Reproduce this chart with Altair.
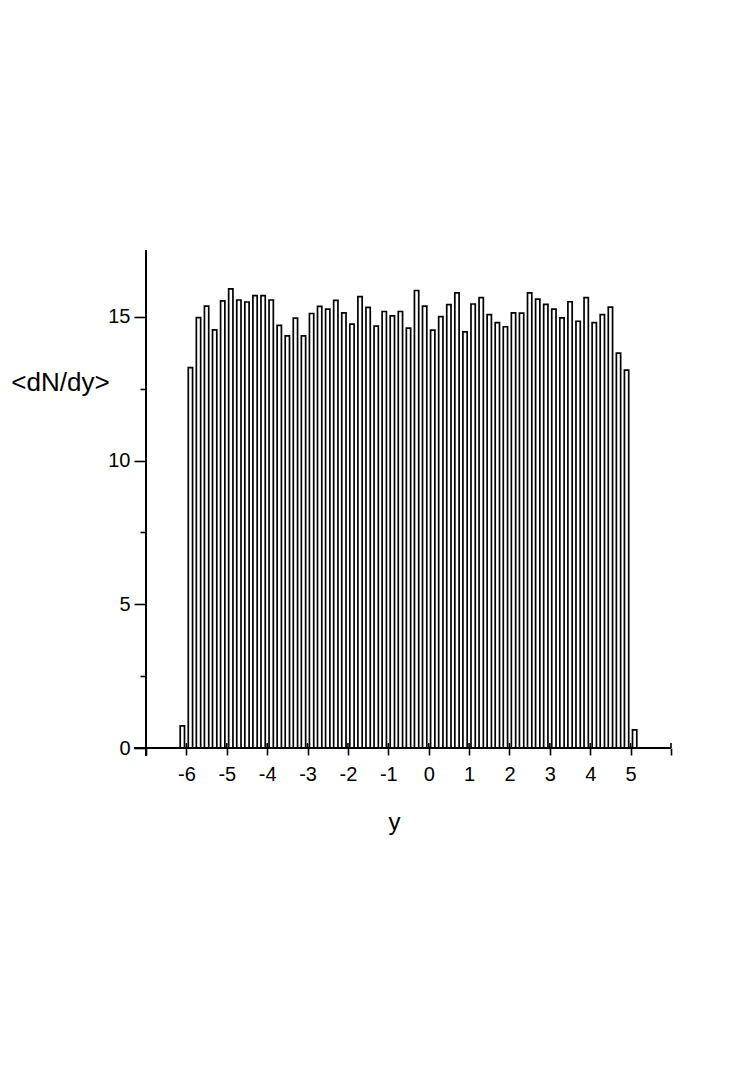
import altair as alt
import pandas as pd

# Bin centres of the rapidity histogram and the mean multiplicity per bin
bin_centers = [-6.1, -5.9, -5.7, -5.5, -5.3, -5.1, -4.9, -4.7, -4.5, -4.3, -4.1,
               -3.9, -3.7, -3.5, -3.3, -3.1, -2.9, -2.7, -2.5, -2.3, -2.1,
               -1.9, -1.7, -1.5, -1.3, -1.1, -0.9, -0.7, -0.5, -0.3, -0.1,
               0.1, 0.3, 0.5, 0.7, 0.9, 1.1, 1.3, 1.5, 1.7, 1.9,
               2.1, 2.3, 2.5, 2.7, 2.9, 3.1, 3.3, 3.5, 3.7, 3.9,
               4.1, 4.3, 4.5, 4.7, 4.9, 5.1]
dndy = [0.77, 13.24, 14.98, 15.38, 14.55, 15.56, 15.98, 15.59, 15.52, 15.74, 15.74,
        15.59, 14.71, 14.34, 14.96, 14.34, 15.12, 15.37, 15.27, 15.58, 15.14,
        14.75, 15.71, 15.33, 14.68, 15.19, 15.04, 15.19, 14.61, 15.92, 15.38,
        14.54, 15.01, 15.43, 15.84, 14.48, 15.45, 15.67, 15.08, 14.80, 14.66,
        15.14, 15.13, 15.84, 15.62, 15.44, 15.27, 14.97, 15.53, 14.85, 15.67,
        14.80, 15.08, 15.34, 13.74, 13.15, 0.63]
x_ticks = [-7, -6, -5, -4, -3, -2, -1, 0, 1, 2, 3, 4, 5, 6]
y_ticks = [0, 2.5, 5, 7.5, 10, 12.5, 15]

HALF = 0.053
FONT = "Liberation Sans"
W, H = 525, 498

df = pd.DataFrame({"yc": bin_centers, "dndy": dndy})
df["lo"] = df["yc"] - HALF
df["hi"] = df["yc"] + HALF

xscale = alt.Scale(domain=[-7, 6], nice=False, zero=False)
yscale = alt.Scale(domain=[0, 17.33], nice=False, zero=True)

x_axis = alt.Axis(
    values=x_ticks,
    labelExpr="(datum.value > -7 && datum.value < 6) ? ('' + datum.value) : ''",
    tickSize=7, tickColor="black", tickWidth=1.6, domain=False, grid=False,
    labelFont=FONT, labelFontSize=20, labelColor="black", labelPadding=25,
    labelBaseline="alphabetic", labelOverlap=False,
    title="y", titleFont=FONT, titleFontSize=24, titleFontWeight="normal",
    titleColor="black", titleX=248, titleY=81, titleAlign="center",
    titleBaseline="alphabetic")

y_axis = alt.Axis(
    values=y_ticks,
    labelExpr="datum.value % 5 === 0 ? ('' + datum.value) : ''",
    tickSize={"condition": {"test": "datum.value % 5 === 0", "value": 12}, "value": 6},
    tickColor="black", tickWidth=1.6, domain=False, grid=False,
    labelFont=FONT, labelFontSize=20, labelColor="black", labelPadding=4,
    title="<dN/dy>", titleFont=FONT, titleFontSize=26, titleFontWeight="normal",
    titleColor="black", titleAngle=0, titleX=-86, titleY=140,
    titleAlign="center", titleBaseline="alphabetic")

bars = alt.Chart(df).mark_rect(
    fill="white", stroke="black", strokeWidth=1.7, opacity=1
).encode(
    x=alt.X("lo:Q", scale=xscale, axis=x_axis),
    x2="hi:Q",
    y=alt.Y("dndy:Q", scale=yscale, axis=y_axis),
    y2=alt.datum(0),
)

# inner halves of the x ticks (ticks cross the axis line)
inner_ticks = alt.Chart(pd.DataFrame({"lo": x_ticks})).mark_rule(
    color="black", strokeWidth=1.6
).encode(
    x=alt.X("lo:Q", scale=xscale, axis=x_axis),
    y=alt.value(H),
    y2=alt.value(H - 5),
)

one = pd.DataFrame({"a": [0]})
x_line = alt.Chart(one).mark_rule(color="black", strokeWidth=2).encode(
    x=alt.value(-12), x2=alt.value(W), y=alt.value(H)
)
y_line = alt.Chart(one).mark_rule(color="black", strokeWidth=2).encode(
    x=alt.value(0), y=alt.value(0), y2=alt.value(H + 8)
)

chart = alt.layer(bars, inner_ticks, x_line, y_line).properties(
    width=W, height=H,
    background="white",
    autosize=alt.AutoSizeParams(type="none"),
    padding={"left": 138, "top": 242, "right": 30, "bottom": 300},
).configure_view(stroke=None)

chart.save("out.html", embed_options={"renderer": "svg", "actions": False})
